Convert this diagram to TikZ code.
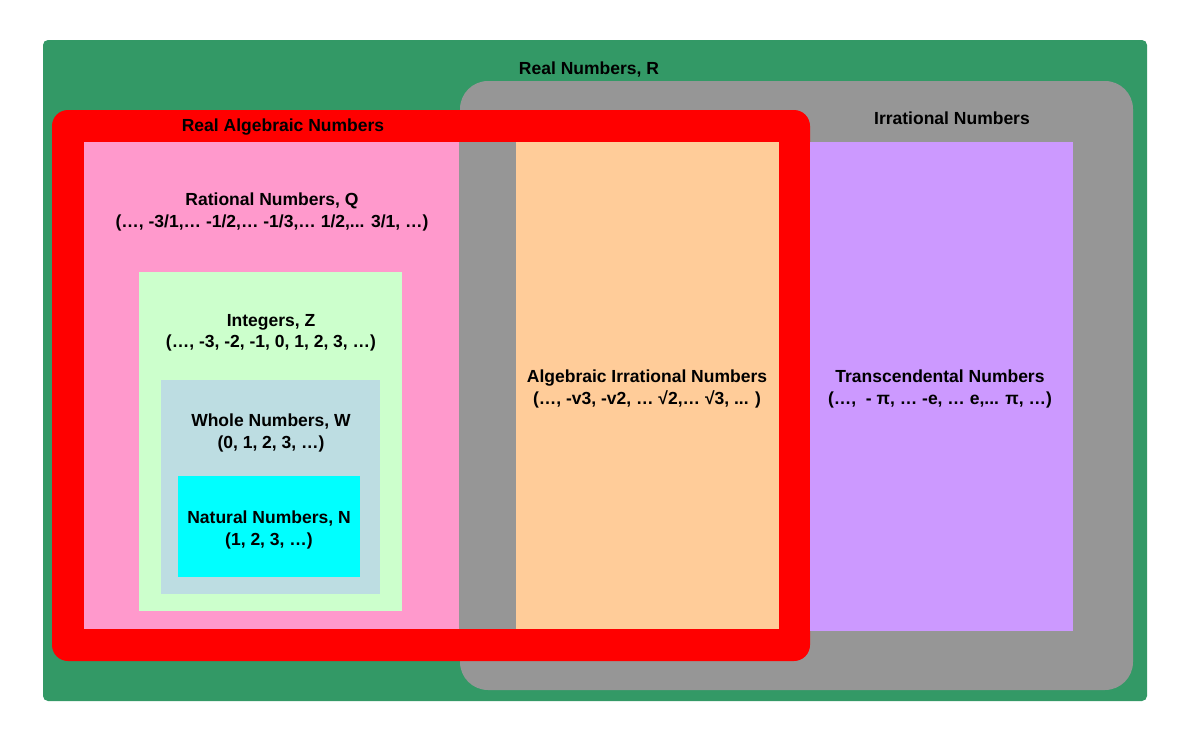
\documentclass[tikz,border=0pt]{standalone}
\usepackage{fontspec}
\setmainfont{Liberation Sans}
\definecolor{realgreen}{RGB}{51,153,102}
\definecolor{irrgray}{RGB}{150,150,150}
\definecolor{ratpink}{RGB}{255,153,204}
\definecolor{algorange}{RGB}{255,204,153}
\definecolor{transpurple}{RGB}{204,153,255}
\definecolor{intgreen}{RGB}{204,255,204}
\definecolor{wholeblue}{RGB}{189,221,226}
\definecolor{natcyan}{RGB}{0,255,255}
\tikzset{
  lbl/.style={font=\fontsize{17.5}{21.5}\selectfont\bfseries, align=center, text=black, inner sep=0pt},
}
\begin{document}
\begin{tikzpicture}[x=1pt,y=-1pt]
\useasboundingbox (0,0) rectangle (1203,744);
\fill[white] (0,0) rectangle (1203,744);
% Real numbers
\fill[realgreen, rounded corners=5] (43,40) rectangle (1147,701);
% Irrational numbers
\fill[irrgray, rounded corners=28] (460,81) rectangle (1133,690);
% Real algebraic numbers
\fill[red, rounded corners=16] (52,110) rectangle (810,661);
% inner regions
\fill[ratpink] (84,142) rectangle (459,629);
\fill[irrgray] (459,142) rectangle (516,629);
\fill[algorange] (516,142) rectangle (779,629);
\fill[transpurple] (810,142) rectangle (1073,631);
\fill[intgreen] (139,272) rectangle (402,611);
\fill[wholeblue] (161,380) rectangle (380,594);
\fill[natcyan] (178,476) rectangle (360,577);
% labels
\node[lbl] (real) at (589,70) {Real Numbers, R};
\node[lbl] (ralg) at (283,127) {Real Algebraic Numbers};
\node[lbl] (irr) at (952,118) {Irrational Numbers};
\node[lbl] (rat) at (272,212) {Rational Numbers, Q\\(…, -3/1,… -1/2,… -1/3,… 1/2,... 3/1, …)};
\node[lbl] (int) at (271,333) {Integers, Z\\(…, -3, -2, -1, 0, 1, 2, 3, …)};
\node[lbl] (whole) at (271,433) {Whole Numbers, W\\(0, 1, 2, 3, …)};
\node[lbl] (nat) at (269,530) {Natural Numbers, N\\(1, 2, 3, …)};
\node[lbl] (algirr) at (647,389) {Algebraic Irrational Numbers\\(…, -v3, -v2, … √2,… √3, ... )};
\node[lbl] (trans) at (940,389) {Transcendental Numbers\\(…,~ - π, … -e, … e,... π, …)};
\end{tikzpicture}
\end{document}
